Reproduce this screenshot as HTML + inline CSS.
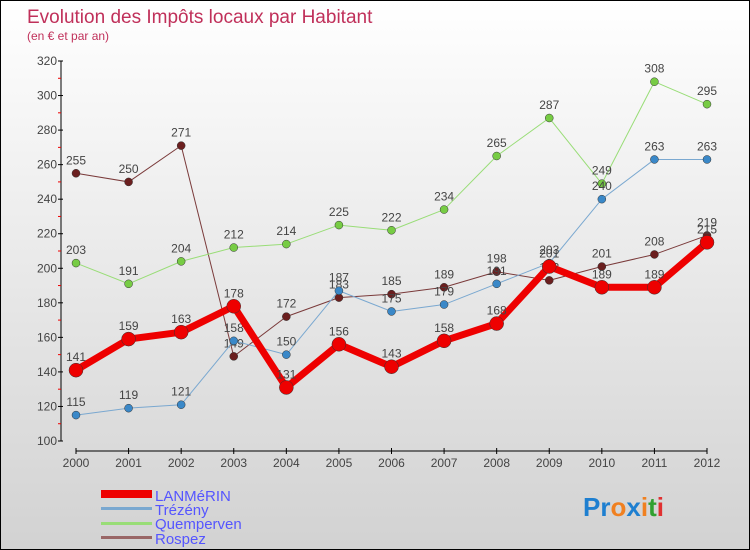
<!DOCTYPE html>
<html><head><meta charset="utf-8"><style>
body{margin:0;width:750px;height:550px;overflow:hidden;font-family:"Liberation Sans",sans-serif}
#wrap{position:absolute;left:0;top:0;width:748px;height:548px;border:1px solid #000;background:linear-gradient(#ffffff,#d2d2d2)}
</style></head><body>
<div id="wrap">
<svg id="chart" width="748" height="548" style="position:absolute;left:0;top:0">
<text x="26" y="22" font-size="19" fill="#c0305a">Evolution des Impôts locaux par Habitant</text>
<text x="26" y="39" font-size="12" fill="#c0305a">(en € et par an)</text>
<g id="axes"></g><g id="series"></g>
<g>
<rect x="100" y="489" width="51" height="8" fill="#e00"/>
<text x="154" y="500" font-size="15" fill="#5555ff">LANMéRIN</text>
<rect x="100" y="506" width="51" height="3" fill="#7aa8d0"/>
<text x="154" y="514" font-size="15" fill="#5555ff">Trézény</text>
<rect x="100" y="521" width="51" height="3" fill="#99dd77"/>
<text x="154" y="528" font-size="15" fill="#5555ff">Quemperven</text>
<rect x="100" y="535" width="51" height="3" fill="#996666"/>
<text x="154" y="543" font-size="15" fill="#5555ff">Rospez</text>
</g>
<g font-size="26" font-weight="bold">
<text x="582" y="515"><tspan fill="#1e7fd0">Pr</tspan><tspan fill="#f08020">o</tspan><tspan fill="#1e7fd0">x</tspan><tspan fill="#f08020">i</tspan><tspan fill="#30a030">t</tspan><tspan fill="#e03030">i</tspan></text>
</g>
</svg></div>
<script>
const years=[2000,2001,2002,2003,2004,2005,2006,2007,2008,2009,2010,2011,2012];
const yTicks=[100,120,140,160,180,200,220,240,260,280,300,320];
const lanmerin=[141,159,163,178,131,156,143,158,168,201,189,189,215];
const trezeny=[115,119,121,158,150,187,175,179,191,203,240,263,263];
const quemperven=[203,191,204,212,214,225,222,234,265,287,249,308,295];
const rospez=[255,250,271,149,172,183,185,189,198,193,201,208,219];
const NS="http://www.w3.org/2000/svg";
function xs(i){return 75+i*(706-75)/(years.length-1);}
function ys(v){return 440-(v-100)*(380/220);}
function mk(tag,attrs,parent){const e=document.createElementNS(NS,tag);for(const k in attrs)e.setAttribute(k,attrs[k]);parent.appendChild(e);return e;}
const axes=document.getElementById('axes');
let yl=mk('line',{x1:60,y1:ys(320),x2:60,y2:ys(100),stroke:'#000','stroke-width':1},axes);


yTicks.forEach(v=>{
 const t=mk('line',{x1:57,y1:ys(v),x2:62,y2:ys(v),stroke:'#000'},axes);
 
 
 if(v<320){const m=mk('line',{x1:57,y1:ys(v+10),x2:60,y2:ys(v+10),stroke:'#e00'},axes);
 
 }
 const l=mk('text',{x:56,y:ys(v)+4,'font-size':12,'text-anchor':'end',fill:'#444'},axes);l.textContent=v;
 
 
});
let xl=mk('line',{x1:75,y1:450,x2:706,y2:450,stroke:'#000'},axes);


years.forEach((y,i)=>{
 const t=mk('line',{x1:xs(i),y1:447,x2:xs(i),y2:453,stroke:'#000'},axes);
 
 
 const l=mk('text',{x:xs(i),y:466,'font-size':12,'text-anchor':'middle',fill:'#444'},axes);l.textContent=y;
 
 
});
const sg=document.getElementById('series');
const defs=[[rospez,'#7a3a3a','#6b1f1f',1,4,'rospez'],[quemperven,'#99dd77','#77cc44',1,4,'quemperven'],[trezeny,'#7aa8d0','#3a88c8',1,4,'trezeny'],[lanmerin,'#ee0000','#ee0000',7,7,'lanmerin']];
defs.forEach(([d,c,pc,w,r,n])=>{
 const p=mk('polyline',{points:d.map((v,i)=>xs(i)+','+ys(v)).join(' '),fill:'none',stroke:c,'stroke-width':w,'stroke-linejoin':'round'},sg);
 
 
 d.forEach((v,i)=>{
  const ci=mk('circle',{cx:xs(i),cy:ys(v),r:r,fill:pc,stroke:'#333','stroke-width':0.5},sg);
  
  
  const t=mk('text',{x:xs(i),y:ys(v)-9,'font-size':12,'text-anchor':'middle',fill:'#444'},sg);t.textContent=v;
  
  
 });
});
</script>
</body></html>
